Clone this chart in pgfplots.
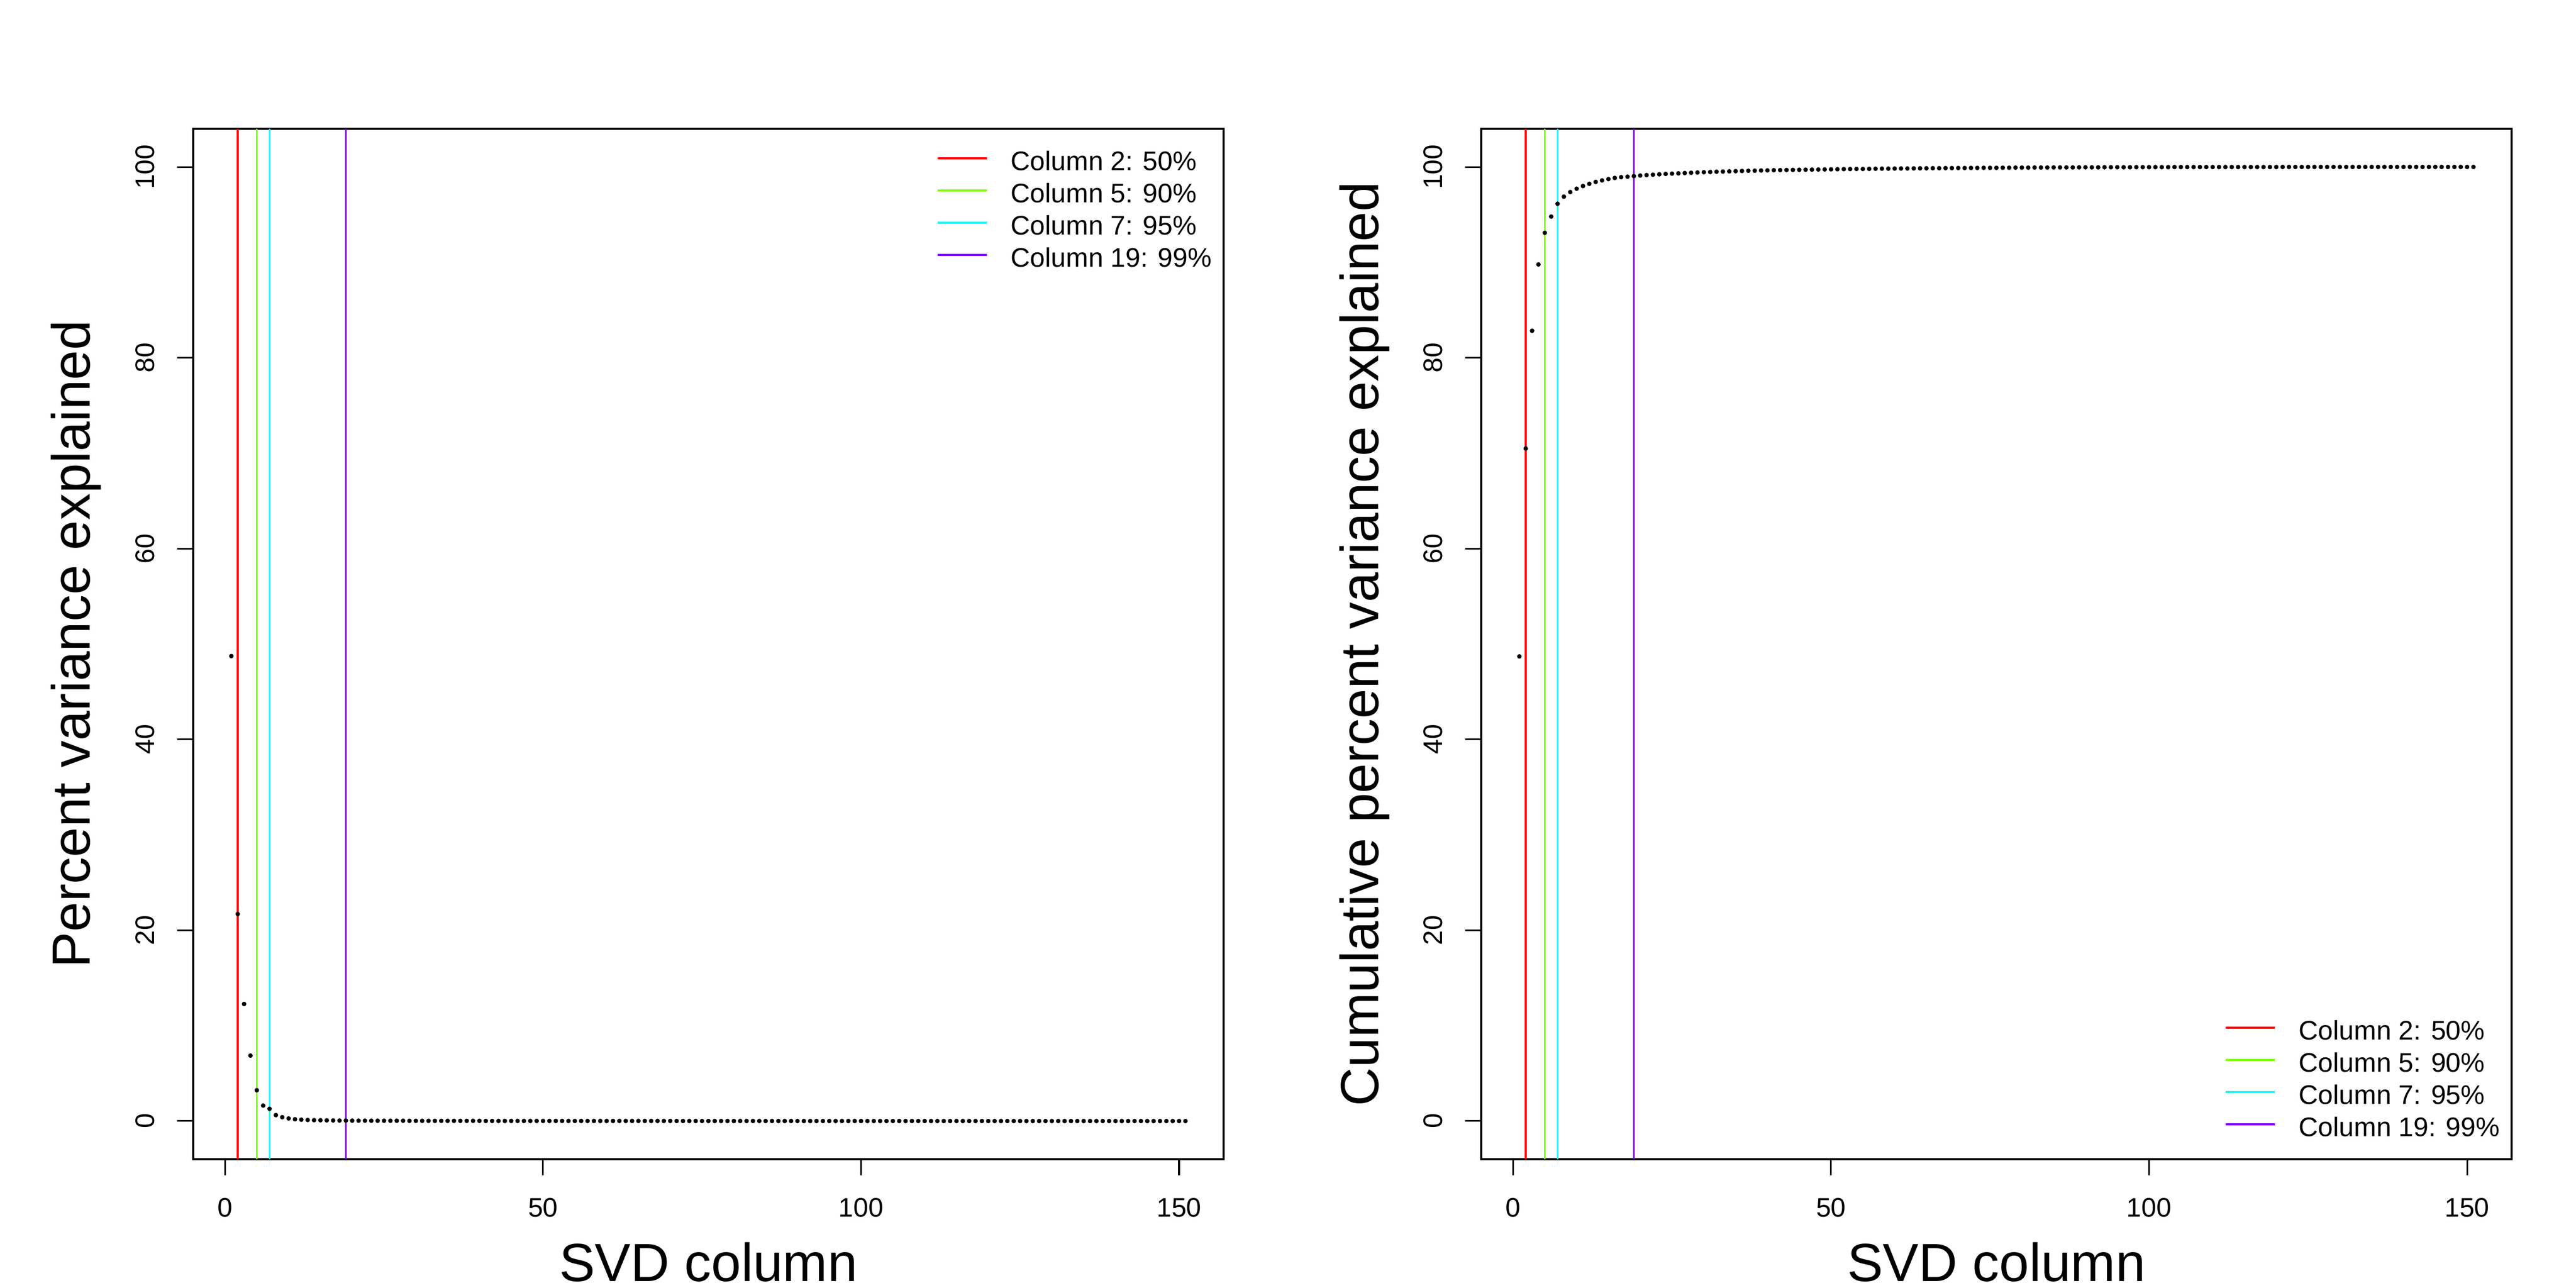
\documentclass[border=0pt]{standalone}
\usepackage{fontspec}
\setmainfont{Liberation Sans}
\usepackage{graphicx}
\usepackage{pgfplots}
\usepackage{pgfplotstable}
\pgfplotsset{compat=1.18}
\definecolor{c1}{HTML}{FF0000}
\definecolor{c2}{HTML}{80FF00}
\definecolor{c3}{HTML}{00FFFF}
\definecolor{c4}{HTML}{8000FF}
\pgfplotstableread{
col pve cum
1 48.73 48.70
2 21.70 70.49
3 12.27 82.83
4 6.86 89.78
5 3.23 93.10
6 1.62 94.80
7 1.28 96.14
8 0.62 96.89
9 0.40 97.37
10 0.27 97.72
11 0.19 98.00
12 0.14 98.23
13 0.11 98.43
14 0.09 98.59
15 0.08 98.73
16 0.07 98.85
17 0.06 98.93
18 0.05 98.98
19 0.05 99.04
20 0.04 99.10
21 0.04 99.15
22 0.04 99.19
23 0.03 99.23
24 0.03 99.27
25 0.03 99.30
26 0.03 99.33
27 0.03 99.36
28 0.03 99.39
29 0.02 99.42
30 0.02 99.45
31 0.02 99.47
32 0.02 99.50
33 0.02 99.52
34 0.02 99.54
35 0.02 99.56
36 0.02 99.58
37 0.02 99.60
38 0.02 99.61
39 0.02 99.63
40 0.02 99.64
41 0.01 99.66
42 0.01 99.67
43 0.01 99.68
44 0.01 99.69
45 0.01 99.70
46 0.01 99.71
47 0.01 99.72
48 0.01 99.73
49 0.01 99.74
50 0.01 99.75
51 0.01 99.76
52 0.01 99.77
53 0.01 99.78
54 0.01 99.79
55 0.01 99.79
56 0.01 99.80
57 0.01 99.81
58 0.01 99.82
59 0.01 99.82
60 0.01 99.83
61 0.01 99.84
62 0.01 99.84
63 0.01 99.85
64 0.01 99.86
65 0.01 99.86
66 0.01 99.87
67 0.01 99.87
68 0.01 99.88
69 0.01 99.88
70 0.01 99.89
71 0.005 99.89
72 0.005 99.90
73 0.005 99.90
74 0.005 99.91
75 0.005 99.91
76 0.005 99.91
77 0.005 99.92
78 0.005 99.92
79 0.005 99.93
80 0.005 99.93
81 0.005 99.93
82 0.005 99.94
83 0.005 99.94
84 0.005 99.94
85 0.005 99.95
86 0.005 99.95
87 0.005 99.95
88 0.005 99.95
89 0.005 99.96
90 0.005 99.96
91 0.003 99.96
92 0.003 99.96
93 0.003 99.97
94 0.003 99.97
95 0.003 99.97
96 0.003 99.97
97 0.003 99.97
98 0.003 99.98
99 0.003 99.98
100 0.003 99.98
101 0.002 99.98
102 0.002 99.98
103 0.002 99.98
104 0.002 99.99
105 0.002 99.99
106 0.002 99.99
107 0.002 99.99
108 0.002 99.99
109 0.002 99.99
110 0.002 99.99
111 0.001 99.99
112 0.001 99.99
113 0.001 99.99
114 0.001 99.99
115 0.001 99.99
116 0.001 99.99
117 0.001 99.99
118 0.001 99.99
119 0.001 99.99
120 0.001 99.99
121 0.001 100.00
122 0.001 100.00
123 0.001 100.00
124 0.001 100.00
125 0.001 100.00
126 0.000 100.00
127 0.000 100.00
128 0.000 100.00
129 0.000 100.00
130 0.000 100.00
131 0.000 100.00
132 0.000 100.00
133 0.000 100.00
134 0.000 100.00
135 0.000 100.00
136 0.000 100.00
137 0.000 100.00
138 0.000 100.00
139 0.000 100.00
140 0.000 100.00
141 0.000 100.00
142 0.000 100.00
143 0.000 100.00
144 0.000 100.00
145 0.000 100.00
146 0.000 100.00
147 0.000 100.00
148 0.000 100.00
149 0.000 100.00
150 0.000 100.00
151 0.000 100.00
}\svd

\pgfplotsset{
  svdbase/.style={
    scale only axis, width=460.8pt, height=460.8pt,
    anchor=south west, clip=false,
    xmin=-5, xmax=157, ymin=-4, ymax=104,
    xtick={0,50,100,150}, ytick={0,20,40,60,80,100},
    tick align=outside, tick pos=left,
    major tick length=7.2pt,
    axis line style={line width=0.75pt, black},
    tick style={black, line width=0.75pt},
    /pgf/number format/assume math mode=true,
    ticklabel style={font=\fontsize{12}{14.4}\selectfont},
    xticklabel style={anchor=base, yshift=-18.72pt},
    yticklabel={\rotatebox{90}{\pgfmathprintnumber{\tick}}},
    yticklabel style={anchor=east, inner sep=0pt, xshift=-9.84pt},
    legend cell align=left,
    legend image code/.code={\draw[##1, line width=0.75pt] (0pt,1.2pt) -- (22.08pt,1.2pt);},
    legend style={draw=none, fill=none, inner xsep=5.3pt, inner ysep=7.2pt, outer sep=0pt,
      column sep=10.3pt, row sep=0pt, font=\fontsize{12}{14.4}\selectfont,
      nodes={inner sep=0pt, text height=11.5pt, text depth=2.9pt}},
  },
  vlines/.style={line width=0.75pt},
}

\begin{document}
\begin{tikzpicture}
\useasboundingbox (0,0) rectangle (1152pt,576pt);
\begin{axis}[svdbase, at={(86.4pt,57.6pt)},
  legend style={at={(1,1)}, anchor=north east}]
\addplot[only marks, mark=*, mark size=0.8pt, black, forget plot] table[x=col, y=pve] {\svd};
\addplot[vlines, c1] coordinates {(2,-4) (2,104)};
\addplot[vlines, c2] coordinates {(5,-4) (5,104)};
\addplot[vlines, c3] coordinates {(7,-4) (7,104)};
\addplot[vlines, c4] coordinates {(19,-4) (19,104)};
\legend{Column 2: 50\%, Column 5: 90\%, Column 7: 95\%, Column 19: 99\%}
\node[rotate=90, anchor=base, font=\fontsize{24}{28.8}\selectfont] at (rel axis cs:-0.1,0.5) {Percent variance explained};
\node[anchor=base, font=\fontsize{24}{28.8}\selectfont] at (rel axis cs:0.5,-0.11875) {SVD column};
\end{axis}
\begin{axis}[svdbase, at={(662.4pt,57.6pt)},
  legend style={at={(1,0)}, anchor=south east}]
\addplot[only marks, mark=*, mark size=0.8pt, black, forget plot] table[x=col, y=cum] {\svd};
\addplot[vlines, c1] coordinates {(2,-4) (2,104)};
\addplot[vlines, c2] coordinates {(5,-4) (5,104)};
\addplot[vlines, c3] coordinates {(7,-4) (7,104)};
\addplot[vlines, c4] coordinates {(19,-4) (19,104)};
\legend{Column 2: 50\%, Column 5: 90\%, Column 7: 95\%, Column 19: 99\%}
\node[rotate=90, anchor=base, font=\fontsize{24}{28.8}\selectfont] at (rel axis cs:-0.1,0.5) {Cumulative percent variance explained};
\node[anchor=base, font=\fontsize{24}{28.8}\selectfont] at (rel axis cs:0.5,-0.11875) {SVD column};
\end{axis}
\end{tikzpicture}
\end{document}
